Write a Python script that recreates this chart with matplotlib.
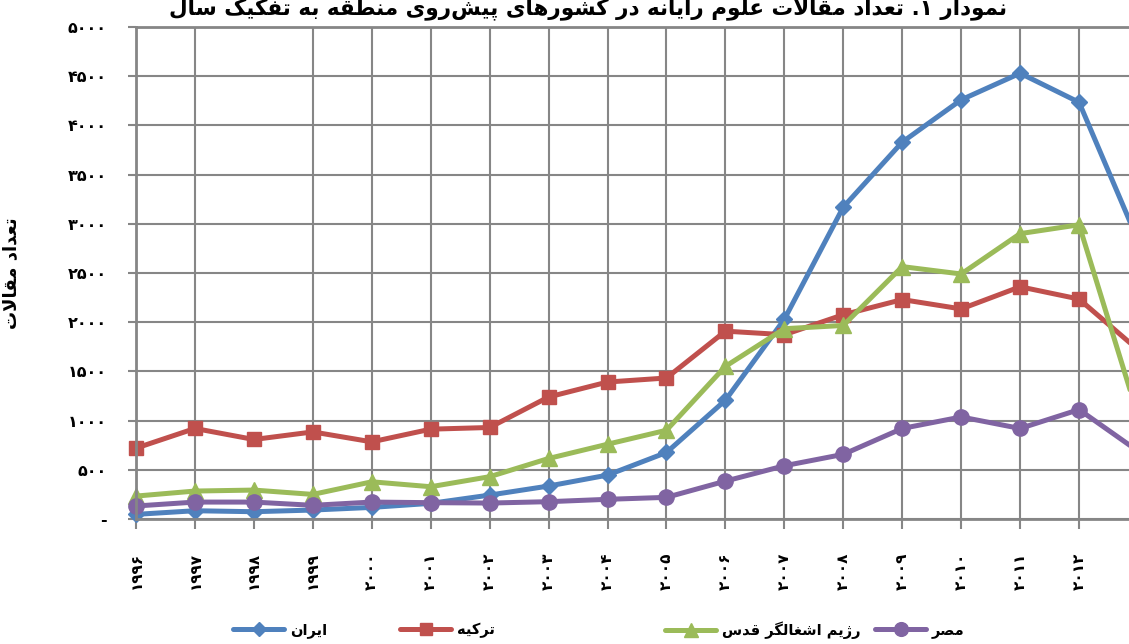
import matplotlib
matplotlib.use("Agg")
import matplotlib.pyplot as plt
from matplotlib.lines import Line2D

# ---------------- data ----------------
years = [1996, 1997, 1998, 1999, 2000, 2001, 2002, 2003, 2004, 2005,
         2006, 2007, 2008, 2009, 2010, 2011, 2012, 2013]
iran = [47, 84, 74, 91, 118, 159, 243, 335, 446, 676,
        1207, 2030, 3170, 3830, 4260, 4530, 4235, 2830]
turkey = [720, 920, 808, 885, 784, 913, 930, 1240, 1392, 1433,
          1909, 1873, 2076, 2230, 2135, 2360, 2235, 1720]
israel = [233, 284, 294, 250, 378, 328, 430, 615, 760, 902,
          1551, 1934, 1967, 2565, 2490, 2900, 2990, 1050]
egypt = [132, 172, 172, 139, 172, 166, 162, 176, 200, 220,
         385, 541, 657, 920, 1037, 920, 1112, 690]
series_names = ["ایران", "ترکیه", "رژیم اشغالگر قدس", "مصر"]
title_text = "نمودار ۱. تعداد مقالات علوم رایانه در کشورهای پیش‌روی منطقه به تفکیک سال"
ylabel_text = "تعداد مقالات"
yticks = [0, 500, 1000, 1500, 2000, 2500, 3000, 3500, 4000, 4500, 5000]

# ---------------- minimal Persian shaping ----------------
DUAL = {'ب': 0xFE8F, 'ت': 0xFE95, 'ث': 0xFE99, 'ج': 0xFE9D, 'ح': 0xFEA1,
        'خ': 0xFEA5, 'س': 0xFEB1, 'ش': 0xFEB5, 'ص': 0xFEB9, 'ض': 0xFEBD,
        'ط': 0xFEC1, 'ظ': 0xFEC5, 'ع': 0xFEC9, 'غ': 0xFECD, 'ف': 0xFED1,
        'ق': 0xFED5, 'ل': 0xFEDD, 'م': 0xFEE1, 'ن': 0xFEE5, 'ه': 0xFEE9,
        'پ': 0xFB56, 'چ': 0xFB7A, 'ک': 0xFB8E, 'گ': 0xFB92, 'ی': 0xFBFC}
RIGHT = {'ا': 0xFE8D, 'د': 0xFEA9, 'ذ': 0xFEAB, 'ر': 0xFEAD, 'ز': 0xFEAF,
         'و': 0xFEED, 'ژ': 0xFB8A, 'آ': 0xFE81}


def shape(text):
    chars = list(text)
    out = []
    i = 0
    n = len(chars)
    while i < n:
        c = chars[i]
        prev = chars[i - 1] if i > 0 else None
        nxt = chars[i + 1] if i + 1 < n else None
        prev_j = prev in DUAL
        if c == 'ل' and nxt == 'ا':
            out.append(chr(0xFEFC if prev_j else 0xFEFB))
            i += 2
            continue
        if c in DUAL:
            next_j = (nxt in DUAL) or (nxt in RIGHT)
            b = DUAL[c]
            if prev_j and next_j:
                out.append(chr(b + 3))
            elif prev_j:
                out.append(chr(b + 1))
            elif next_j:
                out.append(chr(b + 2))
            else:
                out.append(chr(b))
        elif c in RIGHT:
            b = RIGHT[c]
            out.append(chr(b + 1 if prev_j else b))
        elif c == '\u200c':
            pass
        else:
            out.append(c)
        i += 1
    return ''.join(reversed(out))


def fa_digits(s):
    return ''.join('۰۱۲۳۴۵۶۷۸۹'[int(ch)] if ch.isdigit() else ch for ch in str(s))


# ---------------- figure ----------------
plt.rcParams['font.family'] = ['DejaVu Sans']
W, H = 1129, 644
fig = plt.figure(figsize=(W / 100, H / 100), dpi=100)
ax = fig.add_axes([136 / W, (H - 519) / H, (1138 - 136) / W, (519 - 27) / H])

grid_c = '#868686'
colors = ['#4F81BD', '#C0504D', '#9BBB59', '#8064A2']
markers = ['D', 's', '^', 'o']
msizes = [8, 10, 11, 11]
data = [iran, turkey, israel, egypt]

handles = []
for vals, col, mk, ms, name in zip(data, colors, markers, msizes, series_names):
    h, = ax.plot(years, vals, color=col, lw=3.6, marker=mk, ms=ms,
                 markerfacecolor=col, markeredgecolor=col, solid_capstyle='round',
                 clip_on=False)
    handles.append(h)

ax.set_xlim(1996, 2013)
ax.set_ylim(0, 5000)
ax.set_xticks(years)
# the last category (2013) sits beyond the visible right edge
ax.set_xticklabels([fa_digits(y) if y < 2013 else '' for y in years], rotation=90,
                   fontsize=11, fontweight='bold')
ax.set_yticks(yticks)
ax.set_yticklabels(['-' if v == 0 else fa_digits(v) for v in yticks],
                   fontsize=11.5, fontweight='bold')
ax.grid(True, color=grid_c, lw=1.5)
ax.set_axisbelow(True)
ax.xaxis.get_gridlines()[2].set_visible(False)
for side in ['left', 'bottom', 'top']:
    ax.spines[side].set_color(grid_c)
    ax.spines[side].set_linewidth(2)
ax.spines['right'].set_visible(False)
ax.tick_params(axis='both', colors=grid_c, width=1.5, labelcolor='black')
ax.tick_params(axis='y', length=6, pad=15)
ax.tick_params(axis='x', length=7, pad=17)

ax.set_ylabel(shape(ylabel_text), fontsize=13, fontweight='bold')
ax.yaxis.set_label_coords(-(136 - 20) / (1138 - 136), 0.50)

fig.text(588 / W, 1 - 14 / H, shape(title_text), ha='center', va='baseline',
         fontsize=15.5, fontweight='bold')

leg_x = [233, 400, 665, 875]
for h, name, x in zip(handles, series_names, leg_x):
    proxy = Line2D([0], [0], color=h.get_color(), lw=3.6, marker=h.get_marker(),
                   ms=h.get_markersize() * 0.9, solid_capstyle='round')
    fig.legend([proxy], [shape(name)], loc='center left',
               bbox_to_anchor=(x / W, 1 - 630 / H), frameon=False,
               borderpad=0, borderaxespad=0, handlelength=3.5, handletextpad=0.4,
               prop={'size': 10.5, 'weight': 'bold'})

fig.savefig('out.png', dpi=100)
